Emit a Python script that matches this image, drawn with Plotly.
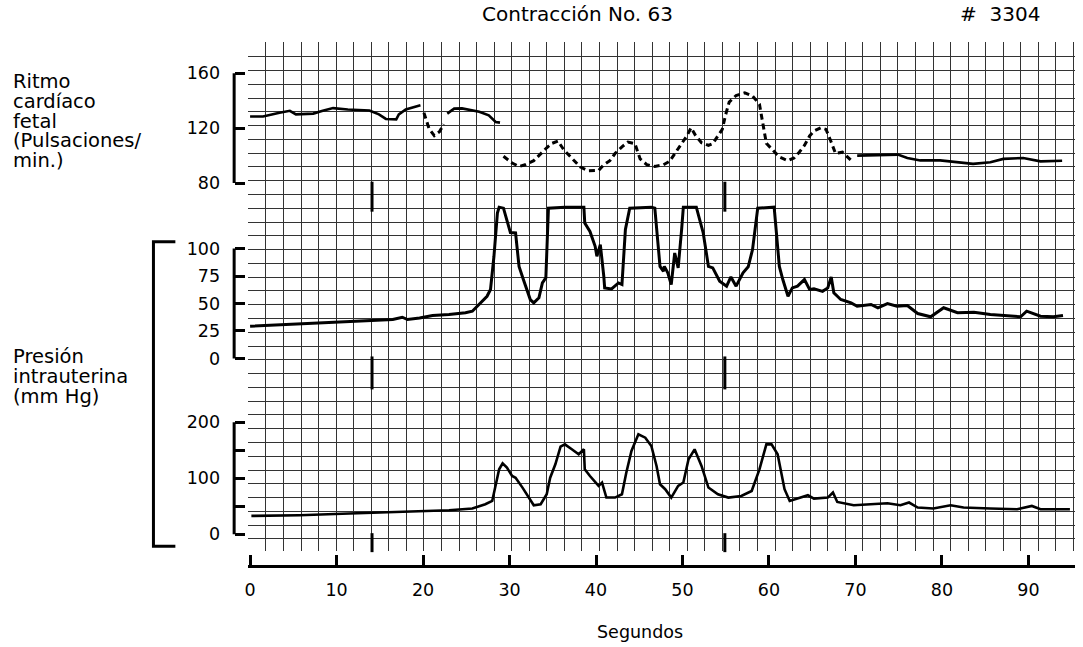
import plotly.graph_objects as go

W, H = 1083, 647
FONT = "DejaVu Sans, Liberation Sans, Arial, sans-serif"

# ---------------- data ----------------
# Fetal heart rate (beats/min) vs seconds
fhr_t = [0.0, 1.5, 3.4, 4.6, 5.3, 7.3, 8.4, 9.6, 11.3, 13.8, 14.9, 15.7, 16.9, 17.2, 18.0, 19.0, 19.7,
         20.1, 20.7, 21.3, 21.9, 22.4,
         22.8, 23.6, 24.5, 25.7, 26.5, 27.6, 28.4, 28.9,
         29.3, 30.3, 31.1, 31.8, 32.8, 33.6, 34.3, 34.9, 35.6, 36.3, 37.2, 38.2, 39.1, 40.3, 40.9,
         41.6, 42.2, 43.0, 43.7, 44.5, 45.1, 45.9, 46.8, 47.8, 48.5, 49.1, 49.8, 50.5, 51.0, 51.5,
         52.2, 53.0, 53.5, 54.1, 54.6, 55.0, 55.4, 56.2, 57.2, 58.1, 58.9, 59.7, 60.4, 61.2, 62.2,
         62.9, 63.5, 64.1, 64.7, 65.2, 66.0, 66.6, 67.1, 67.7, 68.5, 69.5,
         70.2, 72.2, 74.9, 76.0, 77.5, 79.8, 81.8, 83.6, 85.6, 87.1, 89.4, 91.4, 93.9]
fhr_v = [128.5, 128.5, 131.2, 132.6, 130.0, 130.6, 132.6, 134.6, 133.6, 132.9, 130.0, 126.7, 126.4, 130.0, 133.6, 135.6, 136.6,
         131.2, 119.6, 114.6, 117.4, 122.8,
         130.6, 134.2, 134.4, 133.2, 131.9, 129.3, 124.5, 124.0,
         99.5, 94.6, 92.1, 93.3, 96.3, 101.5, 105.7, 108.9, 110.6, 104.0, 98.3, 91.6, 88.9, 89.2, 93.3,
         96.3, 101.5, 106.4, 109.9, 108.7, 97.6, 93.3, 92.1, 93.3, 95.8, 101.5, 108.0, 114.3, 120.3, 114.8,
         109.4, 107.4, 108.7, 114.3, 119.1, 130.0, 139.0, 143.8, 145.7, 143.4, 137.4, 108.9, 104.0, 99.0, 96.3,
         98.3, 102.5, 107.4, 114.3, 117.9, 120.3, 119.1, 111.4, 101.5, 102.5, 96.5,
         100.0, 100.5, 100.7, 98.3, 96.5, 96.5, 95.1, 94.0, 95.1, 97.6, 98.3, 95.8, 96.3]
# Intervals where the heart-rate trace is recorded beat by beat (broken trace)
fhr_broken_spans = [(20.0, 22.6), (29.1, 69.8)]

# Intrauterine pressure, upper channel (mm Hg)
p1_t = [0.0, 1.9, 5.7, 9.6, 13.4, 16.5, 17.6, 18.2, 19.6, 21.1, 23.0, 24.9, 25.7, 26.5, 27.4, 27.8,
        28.2, 28.6, 28.8, 29.3, 29.7, 30.1, 30.7, 31.1, 31.6, 32.4, 32.8, 33.4, 33.8, 34.2, 34.5,
        36.4, 38.6, 38.7, 39.3, 39.9, 40.1, 40.5, 40.9, 41.0, 41.8, 42.6, 43.0, 43.4, 43.9, 46.4,
        46.8, 47.4, 47.8, 47.9, 48.3, 48.7, 49.1, 49.5, 49.9, 50.1, 51.6, 52.4, 53.0, 53.5, 54.3,
        55.1, 55.6, 56.2, 57.0, 57.6, 58.1, 58.7, 60.6, 61.2, 61.6, 62.2, 62.7, 63.3, 64.1, 64.7,
        65.2, 66.2, 66.8, 67.2, 67.5, 68.3, 69.5, 70.2, 71.8, 72.6, 73.7, 74.8, 76.0, 77.2, 78.7,
        80.2, 81.8, 83.7, 85.6, 87.5, 89.1, 89.8, 91.4, 92.9, 94.0]
p1_v = [29.3, 30.0, 30.9, 32.4, 33.9, 35.4, 37.5, 35.4, 36.9, 39.1, 40.0, 41.6, 43.0, 49.1, 56.6, 62.8,
        93.0, 132.4, 137.7, 136.8, 126.2, 114.6, 114.2, 83.8, 71.8, 53.6, 50.6, 55.2, 68.7, 73.4, 136.8,
        137.7, 137.7, 123.3, 115.6, 102.1, 93.0, 103.6, 74.8, 64.2, 63.3, 68.7, 67.3, 117.3, 136.8, 137.7,
        136.8, 83.8, 79.3, 83.8, 77.9, 67.3, 96.0, 82.4, 117.3, 137.7, 137.7, 114.2, 83.8, 82.4, 70.3,
        65.8, 74.2, 65.8, 77.9, 83.4, 99.1, 136.8, 137.7, 83.8, 71.8, 56.6, 64.2, 65.8, 71.8, 62.8,
        63.3, 61.1, 64.2, 74.2, 59.7, 53.6, 50.6, 47.5, 49.1, 46.1, 49.9, 47.5, 48.1, 40.9, 37.9,
        46.1, 41.6, 42.0, 40.0, 38.5, 37.9, 43.0, 38.5, 37.9, 39.1]

# Intrauterine pressure, lower channel (mm Hg)
p2_t = [0.15, 5.7, 11.5, 15.3, 19.2, 23.0, 25.7, 27.2, 28.0, 28.4, 28.8, 29.2, 29.7, 30.3, 30.7,
        31.5, 32.4, 32.8, 33.6, 34.3, 34.7, 35.3, 35.9, 36.4, 37.2, 38.0, 38.6, 38.7, 39.3, 40.3,
        40.7, 41.2, 42.2, 43.0, 43.5, 44.1, 44.9, 45.7, 46.4, 47.0, 47.4, 48.0, 48.7, 49.5, 50.1,
        50.7, 51.4, 52.2, 53.0, 54.1, 55.3, 56.8, 58.0, 58.9, 59.7, 60.3, 61.0, 61.8, 62.4, 63.7,
        64.5, 65.2, 66.8, 67.4, 67.9, 69.8, 72.2, 73.7, 75.2, 76.2, 77.2, 79.0, 81.0, 82.5, 85.6,
        88.7, 90.4, 91.4, 94.8]
p2_v = [32.7, 33.9, 37.0, 38.7, 41.6, 42.9, 45.9, 53.6, 59.5, 86.3, 116.0, 126.8, 119.0, 104.0, 101.0,
        83.3, 62.5, 51.8, 53.6, 71.4, 101.0, 125.0, 156.5, 160.7, 151.8, 142.9, 151.8, 116.0, 104.0, 86.3,
        92.3, 65.5, 65.5, 71.4, 110.0, 148.8, 178.6, 172.6, 157.7, 122.0, 89.3, 80.4, 65.5, 86.3, 92.3,
        133.9, 151.8, 122.0, 83.4, 71.4, 65.5, 68.4, 77.3, 116.0, 160.7, 160.7, 142.9, 80.4, 59.5, 65.5,
        69.6, 63.7, 65.5, 74.5, 57.7, 51.8, 53.6, 55.4, 51.8, 56.6, 47.7, 45.9, 51.8, 47.7, 45.9,
        44.6, 50.5, 44.6, 44.6]

fhr_ticks = [80, 120, 160]
p1_ticks = [0, 25, 50, 75, 100]
p2_ticks = [0, 50, 100, 150, 200]
p2_ticklabels = ["0", "", "100", "", "200"]
x_ticks = [0, 10, 20, 30, 40, 50, 60, 70, 80, 90]
event_marks_s = [14.1, 54.9]

# ---------------- layout helpers ----------------
def fx(px):
    return px / W

def fy(px):
    return 1 - px / H

SEC_PX = 8.68      # pixels per second
X0_PX = 247        # pixel of t = 0
XL, XR = 245, 1075
x_range = [(XL - X0_PX) / SEC_PX, (XR - X0_PX) / SEC_PX]
x_dom = [fx(XL), fx(XR)]
AXPOS = fx(231)

fig = go.Figure()

# background chart-paper grid (first subplot so it sits below the traces)
fig.add_trace(go.Scatter(x=[None], y=[None], xaxis="x", yaxis="y", showlegend=False, hoverinfo="skip"))


def split(t, v, spans, inside):
    out = []
    for a, b in zip(t, v):
        ins = any(lo <= a <= hi for lo, hi in spans)
        out.append(b if ins == inside else None)
    return out

fig.add_trace(go.Scatter(x=fhr_t, y=split(fhr_t, fhr_v, fhr_broken_spans, False), xaxis="x2", yaxis="y2",
                         mode="lines", line=dict(color="black", width=2.6), showlegend=False, hoverinfo="skip"))
fig.add_trace(go.Scatter(x=fhr_t, y=split(fhr_t, fhr_v, fhr_broken_spans, True), xaxis="x2", yaxis="y2",
                         mode="lines", line=dict(color="black", width=3, dash="6px,4px"), showlegend=False,
                         hoverinfo="skip"))
fig.add_trace(go.Scatter(x=p1_t, y=p1_v, xaxis="x2", yaxis="y3", mode="lines",
                         line=dict(color="black", width=3), showlegend=False, hoverinfo="skip"))
fig.add_trace(go.Scatter(x=p2_t, y=p2_v, xaxis="x2", yaxis="y4", mode="lines",
                         line=dict(color="black", width=2.6), showlegend=False, hoverinfo="skip"))

GRID = "#333333"
yfont = dict(family=FONT, size=17.5, color="black")

common_y = dict(anchor="free", position=AXPOS, side="left", ticks="inside", ticklen=10, tickwidth=3,
                tickcolor="black", showline=False, showgrid=False, zeroline=False, tickfont=yfont,
                ticklabelstandoff=14, fixedrange=True)

fig.update_layout(
    width=W, height=H,
    margin=dict(l=0, r=0, t=0, b=0),
    paper_bgcolor="white", plot_bgcolor="rgba(0,0,0,0)",
    font=dict(family=FONT, color="black"),
    xaxis=dict(domain=x_dom, range=x_range, anchor="y", showgrid=True, gridcolor=GRID, gridwidth=1,
               tick0=-0.2, dtick=2.03, showticklabels=False, ticks="", zeroline=False, showline=False),
    yaxis=dict(domain=[fy(552), fy(42)], range=[552, 42], anchor="x", showgrid=True, gridcolor=GRID,
               gridwidth=1, tick0=43, dtick=13.8, showticklabels=False, ticks="", zeroline=False,
               showline=False),
    xaxis2=dict(domain=x_dom, range=x_range, anchor="free", position=fy(567), side="bottom",
                showgrid=False, zeroline=False, showline=True, linecolor="black", linewidth=3,
                tickmode="array", tickvals=x_ticks, ticks="inside", ticklen=10, tickwidth=3,
                tickcolor="black", tickfont=dict(family=FONT, size=17.5, color="black"),
                ticklabelstandoff=7),
    yaxis2=dict(domain=[fy(192), fy(42)], range=[73.7, 182.8], tickmode="array", tickvals=fhr_ticks,
                **common_y),
    yaxis3=dict(domain=[fy(370), fy(200)], range=[-10, 144.5], tickmode="array", tickvals=p1_ticks,
                **common_y),
    yaxis4=dict(domain=[fy(548), fy(380)], range=[-23.2, 276.8], tickmode="array", tickvals=p2_ticks,
                ticktext=p2_ticklabels, **common_y),
)

shapes = []
# bracket spines of the three scales
for yref, lo, hi in [("y2", 80, 160), ("y3", 0, 100), ("y4", 0, 200)]:
    shapes.append(dict(type="line", xref="paper", yref=yref, x0=AXPOS, x1=AXPOS, y0=lo, y1=hi,
                       line=dict(color="black", width=3)))
# large bracket grouping the two pressure channels
shapes.append(dict(type="path", xref="paper", yref="paper",
                   path=f"M {fx(172)},{fy(242)} L {fx(150)},{fy(242)} L {fx(150)},{fy(547)} L {fx(172)},{fy(547)}",
                   line=dict(color="black", width=3)))
# event marks
for s in event_marks_s:
    for a, b in [(182, 212), (357, 390), (534, 553)]:
        shapes.append(dict(type="line", xref="x2", yref="paper", x0=s, x1=s, y0=fy(b), y1=fy(a),
                           line=dict(color="black", width=3)))
fig.update_layout(shapes=shapes)

ann = []
def label(text, x, y, size, xanchor="left"):
    ann.append(dict(text=text, x=fx(x), y=fy(y), xref="paper", yref="paper", showarrow=False,
                    xanchor=xanchor, yanchor="middle", font=dict(family=FONT, size=size, color="black")))

for i, t in enumerate(["Ritmo", "cardíaco", "fetal", "(Pulsaciones/", "min.)"]):
    label(t, 7, 82 + 19.6 * i, 19.5)
for i, t in enumerate(["Presión", "intrauterina", "(mm Hg)"]):
    label(t, 7, 357 + 20 * i, 19.5)
label("Contracción No. 63", 576, 14, 20, "center")
label("#  3304", 1000, 14, 20, "center")
label("Segundos", 638, 633, 17.5, "center")
fig.update_layout(annotations=ann)

fig.write_html("out.html", config={"displayModeBar": False},
               post_script="document.body.style.margin='0px';document.documentElement.style.overflow='hidden';")
